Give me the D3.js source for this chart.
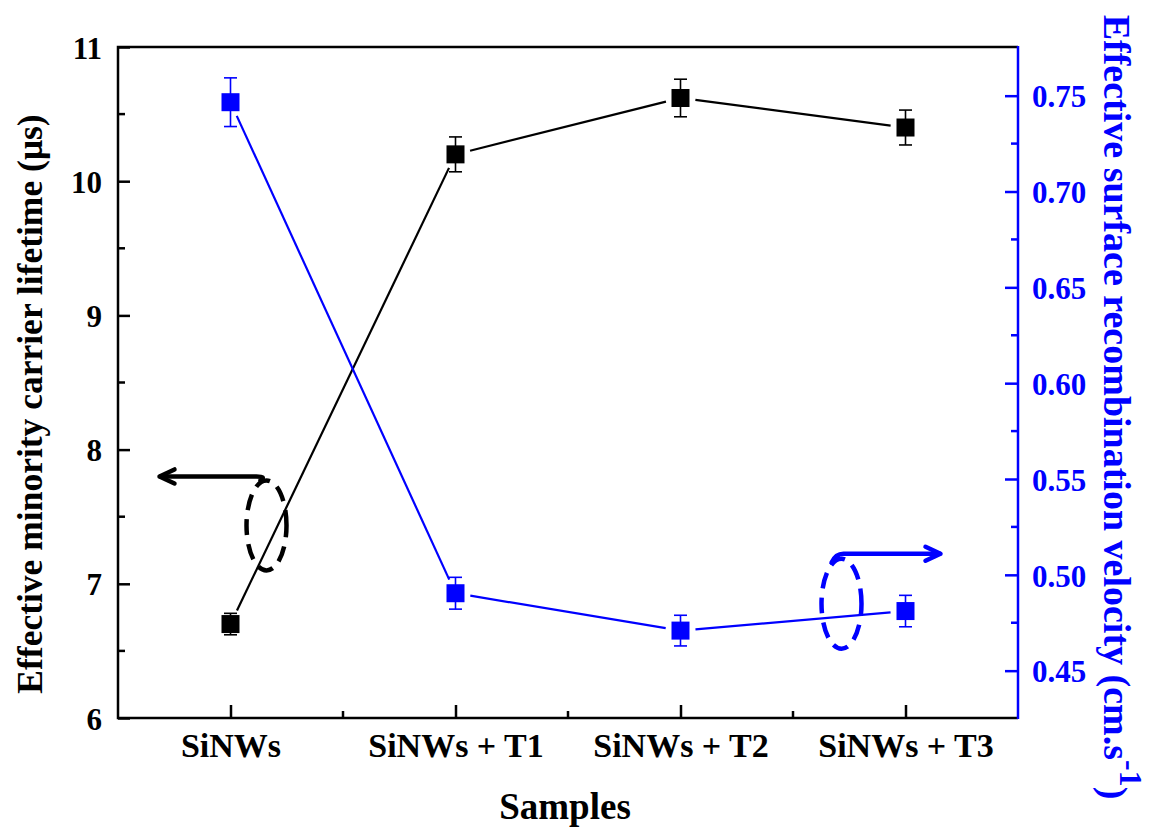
<!DOCTYPE html>
<html>
<head>
<meta charset="utf-8">
<script src="https://cdn.jsdelivr.net/npm/d3@7"></script>
<style>
  body { margin: 0; background: #fff; }
  svg { display: block; font-family: "Liberation Serif", "Times New Roman", serif; font-weight: bold; }
</style>
</head>
<body>
<div class="chart"></div>
<script>
const samples = ['SiNWs', 'SiNWs + T1', 'SiNWs + T2', 'SiNWs + T3'];
const lifetime = [6.70, 10.20, 10.62, 10.40];
const lifetimeErr = [0.08, 0.13, 0.14, 0.13];
const velocity = [0.7466, 0.4904, 0.4709, 0.4811];
const velocityErr = [0.0127, 0.0083, 0.0080, 0.0082];
const leftTicks = [6, 7, 8, 9, 10, 11];
const rightTicks = [0.45, 0.50, 0.55, 0.60, 0.65, 0.70, 0.75];

const width = 1156, height = 833;
const margin = {top: 47, right: 138, bottom: 115, left: 118};
const w = width - margin.left - margin.right,
    h = height - margin.top - margin.bottom;
const blue = '#0000ff';

const svg = d3.select('.chart')
    .append('svg')
    .attr('width', width)
    .attr('height', height);

const main = svg.append('g')
    .attr('transform', 'translate(' + margin.left + ',' + margin.top + ')');

const x = d3.scalePoint()
    .domain(samples)
    .range([0, w])
    .padding(0.5);

const yL = d3.scaleLinear()
    .domain([6, 11])
    .range([h, 0]);

const yR = d3.scaleLinear()
    .domain([0.4253, 0.7754])
    .range([h, 0]);

// minor ticks
const leftMinor = d3.range(6.5, 11, 1);
const rightMinor = d3.range(0.475, 0.76, 0.05);
const xMinor = d3.pairs(samples.map(s => x(s))).map(p => (p[0] + p[1]) / 2);

main.selectAll('.lminor').data(leftMinor).enter().append('line')
    .attr('x1', 0).attr('x2', 7)
    .attr('y1', d => yL(d)).attr('y2', d => yL(d))
    .attr('stroke', '#000').attr('stroke-width', 2.5);

main.selectAll('.rminor').data(rightMinor).enter().append('line')
    .attr('x1', w - 7).attr('x2', w)
    .attr('y1', d => yR(d)).attr('y2', d => yR(d))
    .attr('stroke', blue).attr('stroke-width', 2.5);

main.selectAll('.xminor').data(xMinor).enter().append('line')
    .attr('x1', d => d).attr('x2', d => d)
    .attr('y1', h).attr('y2', h - 7)
    .attr('stroke', '#000').attr('stroke-width', 2.5);

// axes
const xAxis = d3.axisBottom(x).tickSize(-13).tickPadding(0).tickSizeOuter(0);
const gx = main.append('g')
    .attr('transform', 'translate(0,' + h + ')')
    .call(xAxis);
gx.selectAll('text')
    .attr('dy', null)
    .attr('y', 39)
    .style('font-size', '34px')
    .style('font-family', '"Liberation Serif", serif')
    .style('font-weight', 'bold')
    .attr('fill', '#000');

const yAxisL = d3.axisLeft(yL).tickValues(leftTicks).tickFormat(d3.format('d'))
    .tickSize(-12).tickPadding(16).tickSizeOuter(0);
const gl = main.append('g').call(yAxisL);
gl.selectAll('text')
    .attr('dy', '0.36em')
    .style('font-size', '31px')
    .style('font-family', '"Liberation Serif", serif')
    .style('font-weight', 'bold')
    .attr('fill', '#000');

const yAxisR = d3.axisRight(yR).tickValues(rightTicks).tickFormat(d3.format('.2f'))
    .tickSize(-13).tickPadding(14).tickSizeOuter(0);
const gr = main.append('g')
    .attr('transform', 'translate(' + w + ',0)')
    .call(yAxisR);
gr.selectAll('text')
    .attr('dy', '0.36em')
    .style('font-size', '31px')
    .style('font-family', '"Liberation Serif", serif')
    .style('font-weight', 'bold')
    .attr('fill', blue);

[gx, gl].forEach(g => g.selectAll('line, path').attr('stroke', '#000').attr('stroke-width', 2.5));
gr.selectAll('line, path').attr('stroke', blue).attr('stroke-width', 2.5);
gx.select('.domain').remove();
gl.select('.domain').remove();
gr.select('.domain').remove();

// frame
main.append('path')
    .attr('d', 'M' + w + ',0H0V' + h + 'H' + w)
    .attr('fill', 'none')
    .attr('stroke', '#000')
    .attr('stroke-width', 2.5);
main.append('line')
    .attr('x1', w).attr('x2', w).attr('y1', -1).attr('y2', h + 1)
    .attr('stroke', blue).attr('stroke-width', 2.5);

// axis titles
svg.append('text')
    .attr('x', margin.left + w / 2 - 3)
    .attr('y', 819)
    .attr('text-anchor', 'middle')
    .style('font-size', '37px')
    .text('Samples');

svg.append('text')
    .attr('transform', 'translate(42,404) rotate(-90)')
    .attr('text-anchor', 'middle')
    .style('font-size', '35.5px')
    .text('Effective minority carrier lifetime (\u03bcs)');

const rt = svg.append('text')
    .attr('transform', 'translate(1104,407) rotate(90)')
    .attr('text-anchor', 'middle')
    .style('font-size', '38px')
    .attr('fill', blue);
rt.append('tspan').text('Effective surface recombination velocity (cm.s');
rt.append('tspan').attr('dy', '-0.5em').style('font-size', '32px').text('-1');
rt.append('tspan').attr('dy', '0.5em').text(')');

// series
function drawSeries(vals, errs, y, color) {
    const pts = samples.map((s, i) => [x(s), y(vals[i])]);
    const gap = 15;
    const segs = d3.pairs(pts).map(([a, b]) => {
        const dx = b[0] - a[0], dy = b[1] - a[1];
        const len = Math.sqrt(dx * dx + dy * dy);
        const ux = dx / len, uy = dy / len;
        return [a[0] + ux * gap, a[1] + uy * gap, b[0] - ux * gap, b[1] - uy * gap];
    });
    const g = main.append('g');
    g.selectAll('.seg').data(segs).enter().append('line')
        .attr('x1', d => d[0]).attr('y1', d => d[1])
        .attr('x2', d => d[2]).attr('y2', d => d[3])
        .attr('stroke', color).attr('stroke-width', 2.2);

    const eb = g.selectAll('.err').data(samples).enter().append('g')
        .attr('stroke', color).attr('stroke-width', 1.6);
    eb.append('line')
        .attr('x1', d => x(d)).attr('x2', d => x(d))
        .attr('y1', (d, i) => y(vals[i] - errs[i]))
        .attr('y2', (d, i) => y(vals[i] + errs[i]));
    eb.append('line')
        .attr('x1', d => x(d) - 6.5).attr('x2', d => x(d) + 6.5)
        .attr('y1', (d, i) => y(vals[i] + errs[i]))
        .attr('y2', (d, i) => y(vals[i] + errs[i]));
    eb.append('line')
        .attr('x1', d => x(d) - 6.5).attr('x2', d => x(d) + 6.5)
        .attr('y1', (d, i) => y(vals[i] - errs[i]))
        .attr('y2', (d, i) => y(vals[i] - errs[i]));

    g.selectAll('.mark').data(samples).enter().append('rect')
        .attr('x', d => x(d) - 9)
        .attr('y', (d, i) => y(vals[i]) - 9)
        .attr('width', 18).attr('height', 18)
        .attr('fill', color);
}

drawSeries(lifetime, lifetimeErr, yL, '#000');
drawSeries(velocity, velocityErr, yR, blue);

// annotations: ellipse + arrow pointing to each axis
const ann = main.append('g').attr('fill', 'none').attr('stroke-width', 4.5);

const bx = x(samples[0]), by = yL(7.8);
ann.append('ellipse')
    .attr('cx', bx + 36).attr('cy', by + 49)
    .attr('rx', 20).attr('ry', 45)
    .attr('stroke', '#000')
    .attr('stroke-dasharray', '16,9')
    .attr('stroke-dashoffset', 4);
ann.append('path')
    .attr('d', 'M' + (bx + 30) + ',' + (by + 4) + 'Q' + (bx + 36) + ',' + by + ' ' + (bx + 26) + ',' + by +
        'H' + (bx - 70))
    .attr('stroke', '#000').attr('stroke-linecap', 'round');
ann.append('path')
    .attr('d', 'M' + (bx - 56) + ',' + (by - 7) + 'L' + (bx - 71) + ',' + by + 'L' + (bx - 56) + ',' + (by + 7))
    .attr('stroke', '#000').attr('stroke-linecap', 'round').attr('stroke-linejoin', 'round');

const ux = x(samples[3]), uy = yR(0.511);
ann.append('ellipse')
    .attr('cx', ux - 64).attr('cy', uy + 50)
    .attr('rx', 20).attr('ry', 45)
    .attr('stroke', blue)
    .attr('stroke-dasharray', '16,9')
    .attr('stroke-dashoffset', 4);
ann.append('path')
    .attr('d', 'M' + (ux - 74) + ',' + (uy + 9) + 'Q' + (ux - 70) + ',' + uy + ' ' + (ux - 62) + ',' + uy +
        'H' + (ux + 34))
    .attr('stroke', blue).attr('stroke-linecap', 'round');
ann.append('path')
    .attr('d', 'M' + (ux + 20) + ',' + (uy - 7) + 'L' + (ux + 35) + ',' + uy + 'L' + (ux + 20) + ',' + (uy + 7))
    .attr('stroke', blue).attr('stroke-linecap', 'round').attr('stroke-linejoin', 'round');
</script>
</body>
</html>
